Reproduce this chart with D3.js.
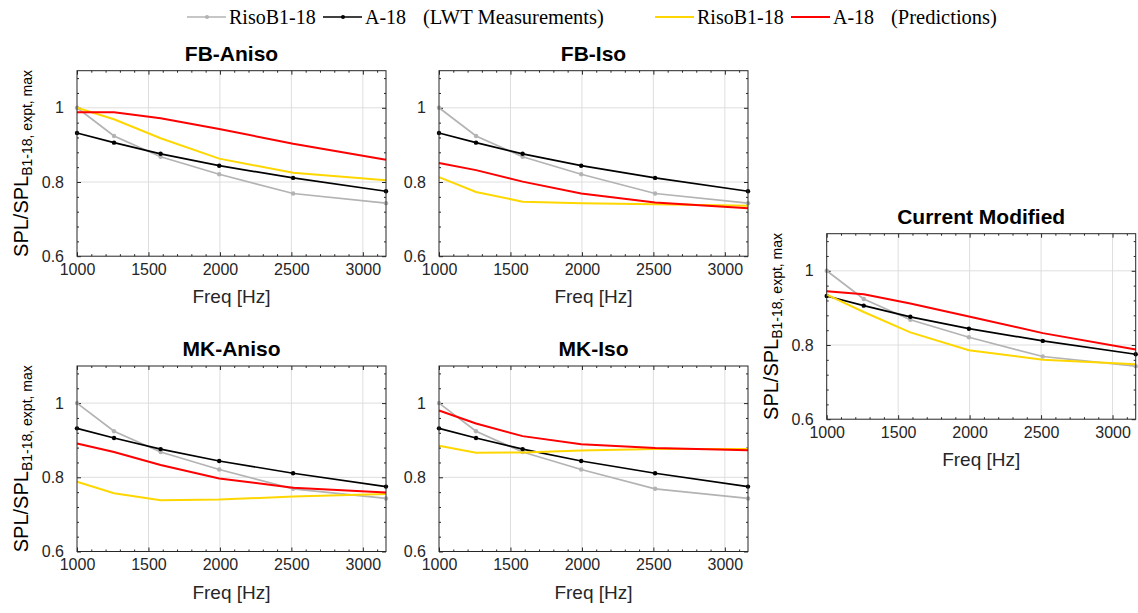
<!DOCTYPE html>
<html>
<head>
<meta charset="utf-8">
<script src="https://cdn.jsdelivr.net/npm/d3@7"></script>
<style>
  body { margin: 0; background: #fff; }
  svg { display: block; }
</style>
</head>
<body>
<svg id="chart"></svg>
<script>
// 1/3-octave band centres
const freqs = [1000, 1259, 1585, 1995, 2512, 3162];
const panelNames = ['FB-Aniso', 'FB-Iso', 'MK-Aniso', 'MK-Iso', 'Current Modified'];

// LWT measurements (same in all panels)
const measRiso = [1.0, 0.924, 0.868, 0.821, 0.769, 0.743];
const measA18 = [0.932, 0.906, 0.876, 0.844, 0.811, 0.775];

// predictions, one row per panel
const predRiso = [
  [1.0, 0.969, 0.918, 0.863, 0.825, 0.805],
  [0.813, 0.773, 0.747, 0.743, 0.740, 0.736],
  [0.788, 0.757, 0.738, 0.740, 0.748, 0.755],
  [0.885, 0.866, 0.867, 0.872, 0.876, 0.876],
  [0.936, 0.889, 0.834, 0.786, 0.760, 0.748]
];
const predA18 = [
  [0.988, 0.988, 0.972, 0.943, 0.903, 0.860],
  [0.851, 0.832, 0.801, 0.769, 0.745, 0.729],
  [0.891, 0.868, 0.833, 0.797, 0.772, 0.759],
  [0.980, 0.945, 0.911, 0.889, 0.879, 0.873],
  [0.945, 0.937, 0.912, 0.877, 0.832, 0.788]
];

const xTicks = [1000, 1500, 2000, 2500, 3000];
const yTicks = [0.6, 0.8, 1];
const xDomain = [1000, 3162];
const yDomain = [0.6, 1.1];

const W = 1138, H = 613;
const pw = 309, ph = 185.5;
const panelPos = [[77, 70.7], [439, 70.7], [77, 366], [439, 366], [826.7, 233.7]];
const withYLabel = [true, false, true, false, true];

const AX = '#262626';
const sans = "'Liberation Sans', Arial, Helvetica, sans-serif";
const serif = "'Liberation Serif', 'Times New Roman', serif";

const svg = d3.select('#chart')
  .attr('width', W)
  .attr('height', H)
  .attr('viewBox', [0, 0, W, H]);

const x = d3.scaleLinear().domain(xDomain).range([0, pw]);
const y = d3.scaleLinear().domain(yDomain).range([ph, 0]);

const xMinor = d3.range(1000, xDomain[1], 100).filter(v => !xTicks.includes(v));
const yMinor = d3.range(0, 13).map(k => +(0.6 + 0.04 * k).toFixed(2))
  .filter(v => v < yDomain[1] && !yTicks.includes(v));

const line = d3.line()
  .x((d, j) => x(freqs[j]))
  .y(d => y(d));

function addAxis(g, axis, tr) {
  const a = g.append('g').attr('transform', tr).call(axis);
  a.select('.domain').remove();
  a.selectAll('line').attr('stroke', AX).attr('stroke-width', 1);
  a.selectAll('text')
    .attr('fill', AX)
    .style('font-family', sans)
    .style('font-size', '16px');
  return a;
}

function drawPanel(i) {
  const g = svg.append('g')
    .attr('transform', `translate(${panelPos[i][0]},${panelPos[i][1]})`);

  // grid
  g.append('g').selectAll('line')
    .data(xTicks.slice(1))
    .join('line')
    .attr('x1', d => x(d)).attr('x2', d => x(d))
    .attr('y1', 0).attr('y2', ph)
    .attr('stroke', '#dedede');
  g.append('g').selectAll('line')
    .data(yTicks.slice(1))
    .join('line')
    .attr('x1', 0).attr('x2', pw)
    .attr('y1', d => y(d)).attr('y2', d => y(d))
    .attr('stroke', '#dedede');

  // ticks on all four sides, pointing inward
  addAxis(g, d3.axisBottom(x).tickValues(xTicks).tickSize(-4).tickPadding(7.5).tickFormat(d3.format('d')), `translate(0,${ph})`);
  addAxis(g, d3.axisBottom(x).tickValues(xMinor).tickSize(-2).tickFormat(''), `translate(0,${ph})`);
  addAxis(g, d3.axisTop(x).tickValues(xTicks).tickSize(-4).tickFormat(''), 'translate(0,0)');
  addAxis(g, d3.axisTop(x).tickValues(xMinor).tickSize(-2).tickFormat(''), 'translate(0,0)');
  addAxis(g, d3.axisLeft(y).tickValues(yTicks).tickSize(-4).tickPadding(13).tickFormat(d => String(d)), 'translate(0,0)');
  addAxis(g, d3.axisLeft(y).tickValues(yMinor).tickSize(-2).tickFormat(''), 'translate(0,0)');
  addAxis(g, d3.axisRight(y).tickValues(yTicks).tickSize(-4).tickFormat(''), `translate(${pw},0)`);
  addAxis(g, d3.axisRight(y).tickValues(yMinor).tickSize(-2).tickFormat(''), `translate(${pw},0)`);

  // series: measurements first, predictions on top
  const series = [
    { vals: measRiso, color: '#b3b3b3', w: 1.7, dots: true },
    { vals: measA18, color: '#000000', w: 1.7, dots: true },
    { vals: predRiso[i], color: '#ffd700', w: 2, dots: false },
    { vals: predA18[i], color: '#ff0000', w: 2, dots: false }
  ];
  series.forEach(s => {
    g.append('path')
      .datum(s.vals)
      .attr('d', line)
      .attr('fill', 'none')
      .attr('stroke', s.color)
      .attr('stroke-width', s.w);
    if (s.dots) {
      g.append('g').selectAll('circle')
        .data(s.vals)
        .join('circle')
        .attr('cx', (d, j) => x(freqs[j]))
        .attr('cy', d => y(d))
        .attr('r', 2.2)
        .attr('fill', s.color);
    }
  });

  // box
  g.append('rect')
    .attr('width', pw).attr('height', ph)
    .attr('fill', 'none')
    .attr('stroke', AX)
    .attr('stroke-width', 1);

  // title
  g.append('text')
    .attr('x', pw / 2).attr('y', -10)
    .attr('text-anchor', 'middle')
    .style('font-family', sans)
    .style('font-size', '21px')
    .style('font-weight', 'bold')
    .text(panelNames[i]);

  // x label
  g.append('text')
    .attr('x', pw / 2).attr('y', ph + 47)
    .attr('text-anchor', 'middle')
    .attr('fill', AX)
    .style('font-family', sans)
    .style('font-size', '19px')
    .text('Freq [Hz]');

  // y label
  if (withYLabel[i]) {
    const t = g.append('text')
      .attr('transform', `translate(-49,${ph / 2}) rotate(-90)`)
      .attr('text-anchor', 'middle')
      .attr('fill', '#000')
      .style('font-family', sans);
    t.append('tspan').style('font-size', '20px').text('SPL/SPL');
    t.append('tspan').attr('dy', 4).style('font-size', '14px').text('B1-18, expt, max');
  }
}

panelNames.forEach((n, i) => drawPanel(i));

// legend
const legendItems = [
  { label: 'RisoB1-18', color: '#b3b3b3', x0: 187, dots: true },
  { label: 'A-18', color: '#000000', x0: 323, dots: true },
  { label: 'RisoB1-18', color: '#ffd700', x0: 655, dots: false },
  { label: 'A-18', color: '#ff0000', x0: 791, dots: false }
];
const lg = svg.append('g');
legendItems.forEach(it => {
  lg.append('line')
    .attr('x1', it.x0).attr('x2', it.x0 + 39)
    .attr('y1', 17).attr('y2', 17)
    .attr('stroke', it.color)
    .attr('stroke-width', it.dots ? 1.7 : 2);
  if (it.dots) {
    lg.append('circle')
      .attr('cx', it.x0 + 20).attr('cy', 17).attr('r', 2)
      .attr('fill', it.color);
  }
  lg.append('text')
    .attr('x', it.x0 + 42).attr('y', 23.5)
    .style('font-family', serif)
    .style('font-size', '20px')
    .text(it.label);
});
lg.append('text')
  .attr('x', 423).attr('y', 23.5)
  .style('font-family', serif)
  .style('font-size', '20.5px')
  .text('(LWT Measurements)');
lg.append('text')
  .attr('x', 891).attr('y', 23.5)
  .style('font-family', serif)
  .style('font-size', '20.5px')
  .text('(Predictions)');
</script>
</body>
</html>
